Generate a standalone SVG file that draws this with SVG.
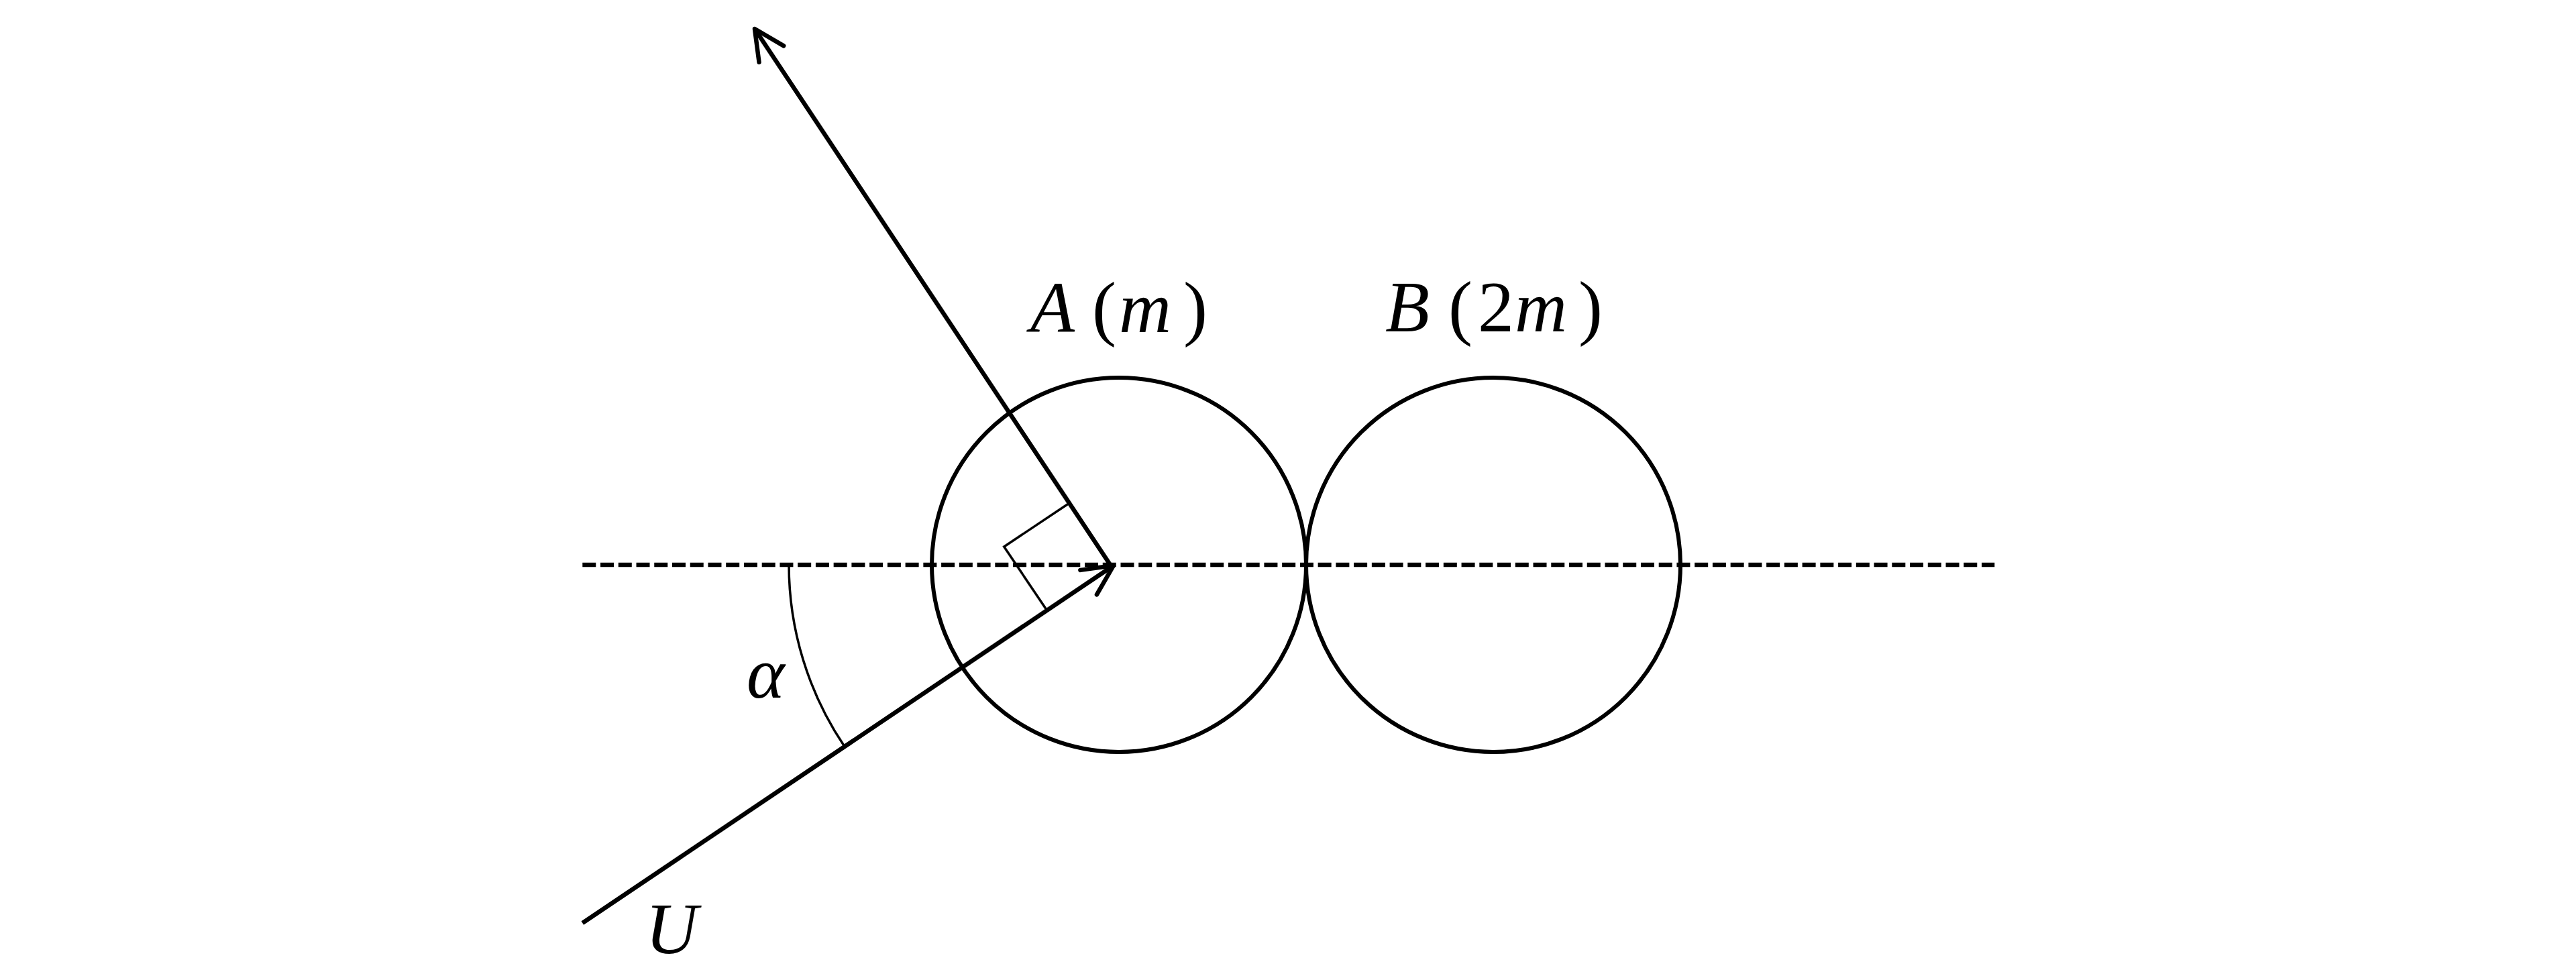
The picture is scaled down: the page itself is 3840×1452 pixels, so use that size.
<svg xmlns="http://www.w3.org/2000/svg" width="3840" height="1452" viewBox="0 0 3840 1452">
<style>
.bg{fill:#ffffff}
.ball{fill:none;stroke:#000;stroke-width:6}
.axis{fill:none;stroke:#000;stroke-width:6.7;stroke-dasharray:20 6.74}
.vec{fill:none;stroke:#000;stroke-width:6.5;stroke-linecap:butt}
.thin{fill:none;stroke:#000;stroke-width:3.5;stroke-linejoin:miter}
.lbl{font-family:"Liberation Serif","Times New Roman",serif;font-size:108px;fill:#000}
.it{font-style:italic}
.up{font-style:normal}
</style>
<defs>
<marker id="head" markerUnits="userSpaceOnUse" viewBox="-55 -30 65 60" markerWidth="65" markerHeight="60" refX="0" refY="0" orient="auto">
<path d="M-45,-22 L0,0 L-45,22" fill="none" stroke="#000" stroke-width="6.5" stroke-linecap="round" stroke-linejoin="round"/>
</marker>
</defs>
<rect class="bg" x="0" y="0" width="3840" height="1452"/>
<g id="ballA">
<circle class="ball" cx="1668" cy="842" r="279"/>
<text class="lbl" y="495"><tspan class="it" x="1536">A</tspan><tspan class="up" x="1628">(</tspan><tspan class="it" x="1668">m</tspan><tspan class="up" x="1764">)</tspan></text>
</g>
<g id="ballB">
<circle class="ball" cx="2226" cy="842" r="279"/>
<text class="lbl" y="494"><tspan class="it" x="2065">B</tspan><tspan class="up" x="2159">(</tspan><tspan class="up" x="2203">2</tspan><tspan class="it" x="2258">m</tspan><tspan class="up" x="2353">)</tspan></text>
</g>
<g id="connectors">
<line class="axis" x1="868.3" y1="842" x2="2973.3" y2="842"/>
<line id="velU" class="vec" x1="868.3" y1="1376" x2="1660" y2="843" marker-end="url(#head)"/>
<line id="velOut" class="vec" x1="1655" y1="842" x2="1125" y2="43" marker-end="url(#head)"/>
<polyline id="rightAngle" class="thin" points="1594,750 1496.7,815 1560.7,910"/>
<path id="angleArc" class="thin" d="M1176,842 A484,484 0 0 0 1258.9,1112.8"/>
</g>
<g id="labels">
<text class="lbl it" x="1113" y="1040">α</text>
<text class="lbl it" x="962" y="1421">U</text>
</g>
</svg>
